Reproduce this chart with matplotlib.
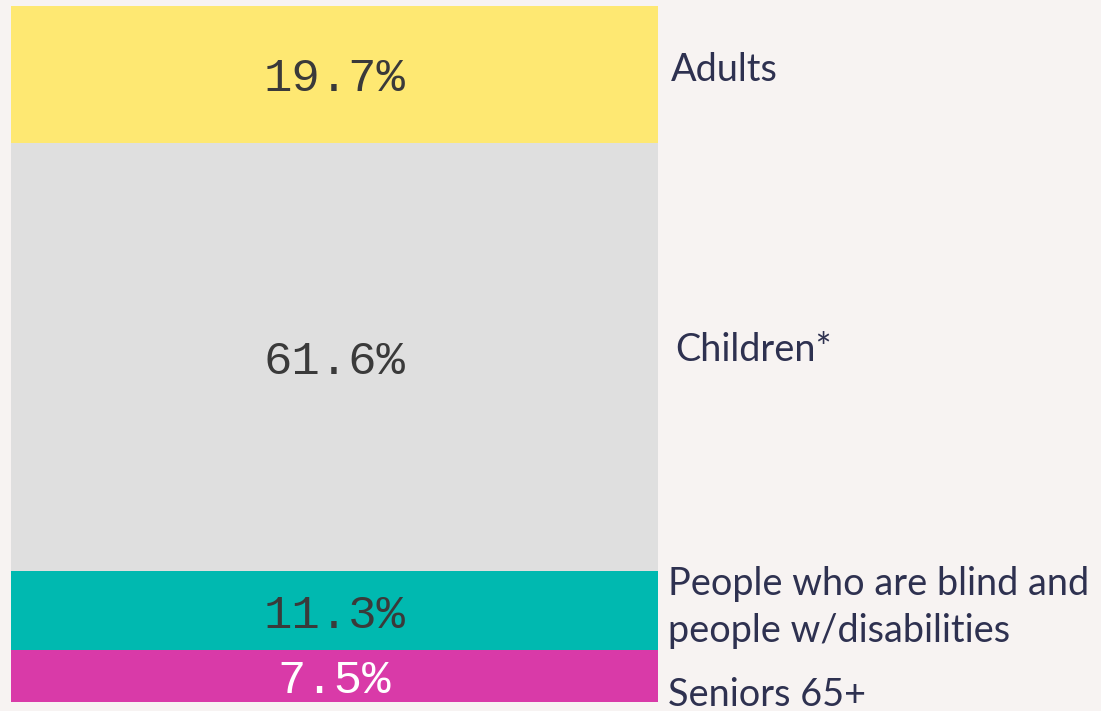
import matplotlib.pyplot as plt

# segments, bottom to top
groups = ["Seniors 65+", "People who are blind and\npeople w/disabilities", "Children*", "Adults"]
shares = [7.5, 11.3, 61.6, 19.7]
colors = ["#d93aa8", "#00b9b0", "#dfdfdf", "#fee872"]
value_colors = ["white", "#3a3a3a", "#3a3a3a", "#3a3a3a"]
# small nudges (pixels) for the side labels so they don't collide
label_dx = [10, 10, 17, 13]
label_dy = [-19, 3, 7, 4]

bg = "#f7f3f2"
fig = plt.figure(figsize=(11.01, 7.11), dpi=100, facecolor=bg)
ax = fig.add_axes([10.5 / 1101, 9 / 711, 647.5 / 1101, 696 / 711])
ax.set_facecolor(bg)

px = 72 / 100  # pixels -> points

bottom = 0
for name, val, col, tcol, dx, dy in zip(groups, shares, colors, value_colors, label_dx, label_dy):
    ax.bar(0, val, bottom=bottom, width=1, color=col, linewidth=0)
    mid = bottom + val / 2
    ax.annotate(f"{val}%", xy=(0, mid), xytext=(0, -5 * px), textcoords="offset points",
                ha="center", va="center", fontsize=34, color=tcol,
                family="Liberation Mono")
    ax.annotate(name, xy=(0.5, mid), xytext=(dx * px, dy * px), textcoords="offset points",
                ha="left", va="center", fontsize=27.3, color="#2e3150",
                family="Lato", linespacing=1.36, annotation_clip=False)
    bottom += val

ax.set_xlim(-0.5, 0.5)
ax.set_ylim(0, bottom)
ax.axis("off")

fig.savefig("out.png", dpi=100, facecolor=bg)
